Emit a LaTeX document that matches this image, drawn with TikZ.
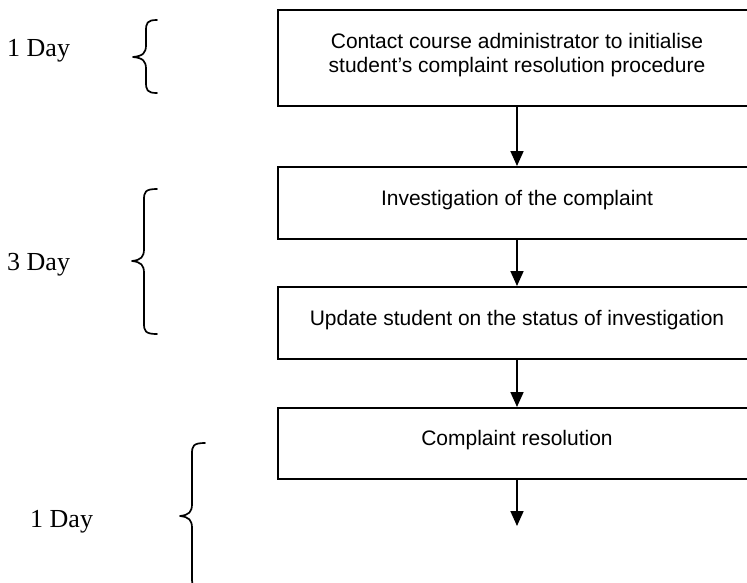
\documentclass[tikz,border=0pt]{standalone}
\usepackage{fontspec}
\setmainfont{Liberation Serif}
\newfontfamily\boxfont{Liberation Sans}
\usetikzlibrary{arrows.meta,calc}
\newcommand{\mybrace}[6]{%
  \draw[bracestyle] (#1,#4) .. controls (#2+1,#4) and (#2,#4+3) .. (#2,#4+11)
    -- (#2,#5-12) .. controls (#2,#5-4) and (#2-3,#5-1) .. (#3,#5)
    .. controls (#2-3,#5+1) and (#2,#5+4) .. (#2,#5+12)
    -- (#2,#6-11) .. controls (#2,#6-3) and (#2+1,#6) .. (#1,#6);}
\begin{document}
\begin{tikzpicture}[x=1pt,y=-1pt,
  stepbox/.style={draw=black,line width=1.7pt,minimum width=560pt,inner sep=0pt,anchor=north west},
  boxtext/.style={font=\boxfont\fontsize{21}{24}\selectfont,align=center,inner sep=0pt},
  daylabel/.style={font=\fontsize{26}{30}\selectfont,inner sep=0pt,anchor=base west},
  bracestyle/.style={line width=1.7pt,line cap=round,line join=round},
  flow/.style={line width=1.7pt,-{Triangle[width=13pt,length=15pt]}}]
\useasboundingbox (0,0) rectangle (747,582);
\clip (0,0) rectangle (747,582);
% boxes (their right side runs off the page)
\node[stepbox,minimum height=96pt] (b1) at (277,9) {};
\node[stepbox,minimum height=72pt] (b2) at (277,166) {};
\node[stepbox,minimum height=72pt] (b3) at (277,286) {};
\node[stepbox,minimum height=71pt] (b4) at (277,407) {};
% axis points of the boxes (centre of the visible box)
\foreach \b in {b1,b2,b3,b4}{
  \coordinate (\b top) at ([xshift=240pt]\b.north west);
  \coordinate (\b bot) at ([xshift=240pt]\b.south west);
  \coordinate (\b mid) at ($(\b top)!0.5!(\b bot)$);
}
% texts
\node[boxtext] (t1) at ([yshift=2.5pt]b1mid) {Contact course administrator to initialise\\student’s complaint resolution procedure};
\node[boxtext,anchor=base] (t2) at ([yshift=-3pt]b2mid) {Investigation of the complaint};
\node[boxtext,anchor=base] (t3) at ([yshift=-3pt]b3mid) {Update student on the status of investigation};
\node[boxtext,anchor=base] (t4) at ([yshift=-2.5pt]b4mid) {Complaint resolution};
% connectors
\coordinate (end) at (517,526);
\draw[flow] (b1bot) -- (b2top);
\draw[flow] (b2bot) -- (b3top);
\draw[flow] (b3bot) -- (b4top);
\draw[flow] (b4bot) -- (end);
% braces
\mybrace{157}{146}{133}{20}{57}{93}
\mybrace{157}{144}{132}{189}{261}{334}
\mybrace{205}{192}{180}{443}{516}{589}
% day labels
\node[daylabel] (d1) at (7,56) {1 Day};
\node[daylabel] (d2) at (7,270) {3 Day};
\node[daylabel] (d3) at (30,527) {1 Day};
\end{tikzpicture}
\end{document}
